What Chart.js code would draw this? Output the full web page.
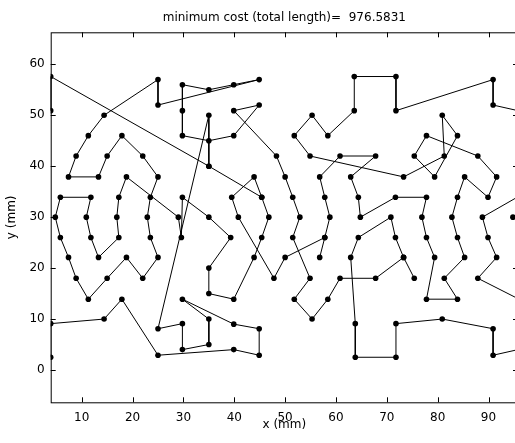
<!DOCTYPE html>
<html>
<head>
<meta charset="utf-8">
<script src="https://cdn.jsdelivr.net/npm/chart.js@4/dist/chart.umd.min.js"></script>
<style>
  html, body { margin: 0; padding: 0; background: #fff; }
  #wrap { width: 515px; height: 443px; overflow: hidden; }
</style>
</head>
<body>
<div id="wrap"><canvas id="tourChart" width="522" height="443"></canvas></div>
<script>
// tour through the points, null = break in the drawn line
var tourX = [3.9, 3.9, 14.4, 17.9, 25, 39.9, 44.9, 44.9, 39.9, 29.8, 35, 35, 29.8, 29.8, 25, 35, 35, 3.9, 3.9, null,
    35, 45.4, 46.8, 45.4, 43.9, 39.9, 35, 35, 39.3, 35, 29.8, 29.6, 29, 18.8, 17.3, 16.9, 17.3, 13.3, 11.8, 10.9, 11.8, 5.8, 4.8, 5.8, 7.4, 8.9, 11.3, 15, 18.8, 22, 25, 23.5, 22.9, 23.5, 25, 22, 17.9, 15, 13.3, 7.4, 8.9, 11.3, 14.4, 25, 25, 44.9, 39.9, 35, 29.8, 29.8, 29.8, 35, 39.9, 44.9, 39.9, 48.3, 50, 51.5, 52.9, 51.5, 54.9, 51.8, 55.3, 58.4, 60.8, 67.8, 73.3, 71.7, 70.8, 64.4, 62.9, 63.8, 63.8, 71.8, 71.8, 80.9, 90.9, 90.9, 95.8, null,
    45.4, 43.9, 39.5, 40.8, 47.8, 50, 57.8, 58.8, 57.8, 56.8, 60.8, 67.8, 62.9, 64.4, 64.8, 71.7, 77.8, 76.9, 77.8, 79.4, 77.8, 83.9, 81.3, 85.3, 83.9, 82.8, 83.9, 85.3, 89.9, 91.6, 87.9, 77.8, 75.4, 79.4, 83.9, 80.9, 81.3, 73.3, 54.9, 51.8, 55.3, 58.4, 63.6, 63.6, 71.8, 71.8, 90.9, 90.9, 95.8, null,
    95.8, 88.8, 89.9, 91.6, 87.9, 95.8, null,
    56.8, 57.8, null,
    73.3, 75.4, null,
    94.8];
var tourY = [2.5, 9.1, 10, 13.9, 2.9, 4, 2.9, 8.1, 9, 13.9, 10, 5, 4, 9.1, 8.1, 50, 40, 57.6, 50.9, null,
    40, 33.9, 30, 26, 22.1, 13.9, 15, 20, 26, 30, 33.9, 26, 30, 37.9, 33.9, 30, 26, 22.1, 26, 30, 33.9, 33.9, 30, 26, 22.1, 18, 13.9, 18, 22.1, 18, 22.1, 26, 30, 33.9, 37.9, 42, 46, 42, 37.9, 37.9, 42, 46, 50, 57, 52, 57, 56, 55, 56, 50.9, 46, 45, 46, 52, 50.9, 42, 37.9, 33.9, 30, 26, 18, 13.9, 10, 13.9, 18, 18, 22.1, 26, 30, 26, 22.1, 9.1, 2.5, 2.5, 9.1, 10, 8.1, 2.9, 4, null,
    33.9, 37.9, 33.9, 30, 18, 22.1, 26, 30, 33.9, 37.9, 42, 42, 37.9, 33.9, 30, 33.9, 33.9, 30, 26, 22.1, 13.9, 13.9, 18, 22.1, 26, 30, 33.9, 37.9, 33.9, 37.9, 42, 46, 42, 37.9, 46, 50, 42, 37.9, 42, 46, 50, 46, 50.9, 57.6, 57.6, 50.9, 57, 52, 50.9, null,
    34, 30, 26, 22.1, 18, 14, null,
    22.1, 26, null,
    22.1, 18, null,
    30];

var xTicks = [10, 20, 30, 40, 50, 60, 70, 80, 90];
var yTicks = [0, 10, 20, 30, 40, 50, 60];
var costText = 'minimum cost (total length)=  976.5831';

var pts = [];
for (var i = 0; i < tourX.length; i++) {
    if (tourX[i] === null) pts.push({x: 0, y: null});
    else pts.push({x: tourX[i], y: tourY[i]});
}

var labelFont = {family: 'DejaVu Sans', size: 12};

// inward tick marks on all four sides plus the box, like matlab
var boxTicks = {
    id: 'boxTicks',
    afterDraw: function(chart) {
        var c = chart.ctx, a = chart.chartArea;
        var sx = chart.scales.x, sy = chart.scales.y;
        c.save();
        c.strokeStyle = '#000';
        c.lineWidth = 1;
        c.strokeRect(a.left + 0.5, a.top + 0.5, a.right - a.left, a.bottom - a.top);
        c.beginPath();
        xTicks.forEach(function(v) {
            var px = Math.round(sx.getPixelForValue(v)) + 0.5;
            c.moveTo(px, a.bottom); c.lineTo(px, a.bottom - 5);
            c.moveTo(px, a.top); c.lineTo(px, a.top + 5);
        });
        yTicks.forEach(function(v) {
            var py = Math.round(sy.getPixelForValue(v)) + 0.5;
            c.moveTo(a.left, py); c.lineTo(a.left + 5, py);
            c.moveTo(a.right, py); c.lineTo(a.right - 5, py);
        });
        c.stroke();
        c.restore();
    }
};

var ctx = document.getElementById('tourChart').getContext('2d');
var chart = new Chart(ctx, {
    type: 'scatter',
    data: {
        datasets: [{
            label: 'tour',
            data: pts,
            showLine: true,
            spanGaps: false,
            borderColor: '#000',
            borderWidth: 1,
            backgroundColor: '#000',
            pointBackgroundColor: '#000',
            pointBorderColor: '#000',
            pointRadius: 2.8,
            pointBorderWidth: 0
        }]
    },
    options: {
        responsive: false,
        animation: false,
        layout: {padding: {left: 0, right: 4, top: 0, bottom: 0}},
        plugins: {
            legend: {display: false},
            tooltip: {enabled: false},
            title: {
                display: true,
                text: costText,
                color: '#000',
                fullSize: false,
                font: {family: 'DejaVu Sans', size: 12, weight: 'normal'},
                padding: {top: 10.3, bottom: 7.6}
            }
        },
        scales: {
            x: {
                type: 'linear',
                min: 3.9,
                max: 95.8,
                grid: {display: false, drawTicks: false},
                border: {display: false},
                afterBuildTicks: function(s) { s.ticks = xTicks.map(function(v) { return {value: v}; }); },
                afterFit: function(s) { s.height = 40.7; },
                ticks: {color: '#000', font: labelFont, padding: 8, maxRotation: 0, autoSkip: false},
                title: {display: true, text: 'x (mm)', color: '#000', font: labelFont, padding: {top: 0, bottom: 11}}
            },
            y: {
                type: 'linear',
                min: -6.34,
                max: 66.28,
                grid: {display: false, drawTicks: false},
                border: {display: false},
                afterBuildTicks: function(s) { s.ticks = yTicks.map(function(v) { return {value: v}; }); },
                afterFit: function(s) { s.width = 50.7; },
                ticks: {color: '#000', font: labelFont, padding: 6, autoSkip: false},
                title: {display: true, text: 'y (mm)', color: '#000', font: labelFont, padding: {top: 5, bottom: 0}}
            }
        }
    },
    plugins: [boxTicks]
});
</script>
</body>
</html>
